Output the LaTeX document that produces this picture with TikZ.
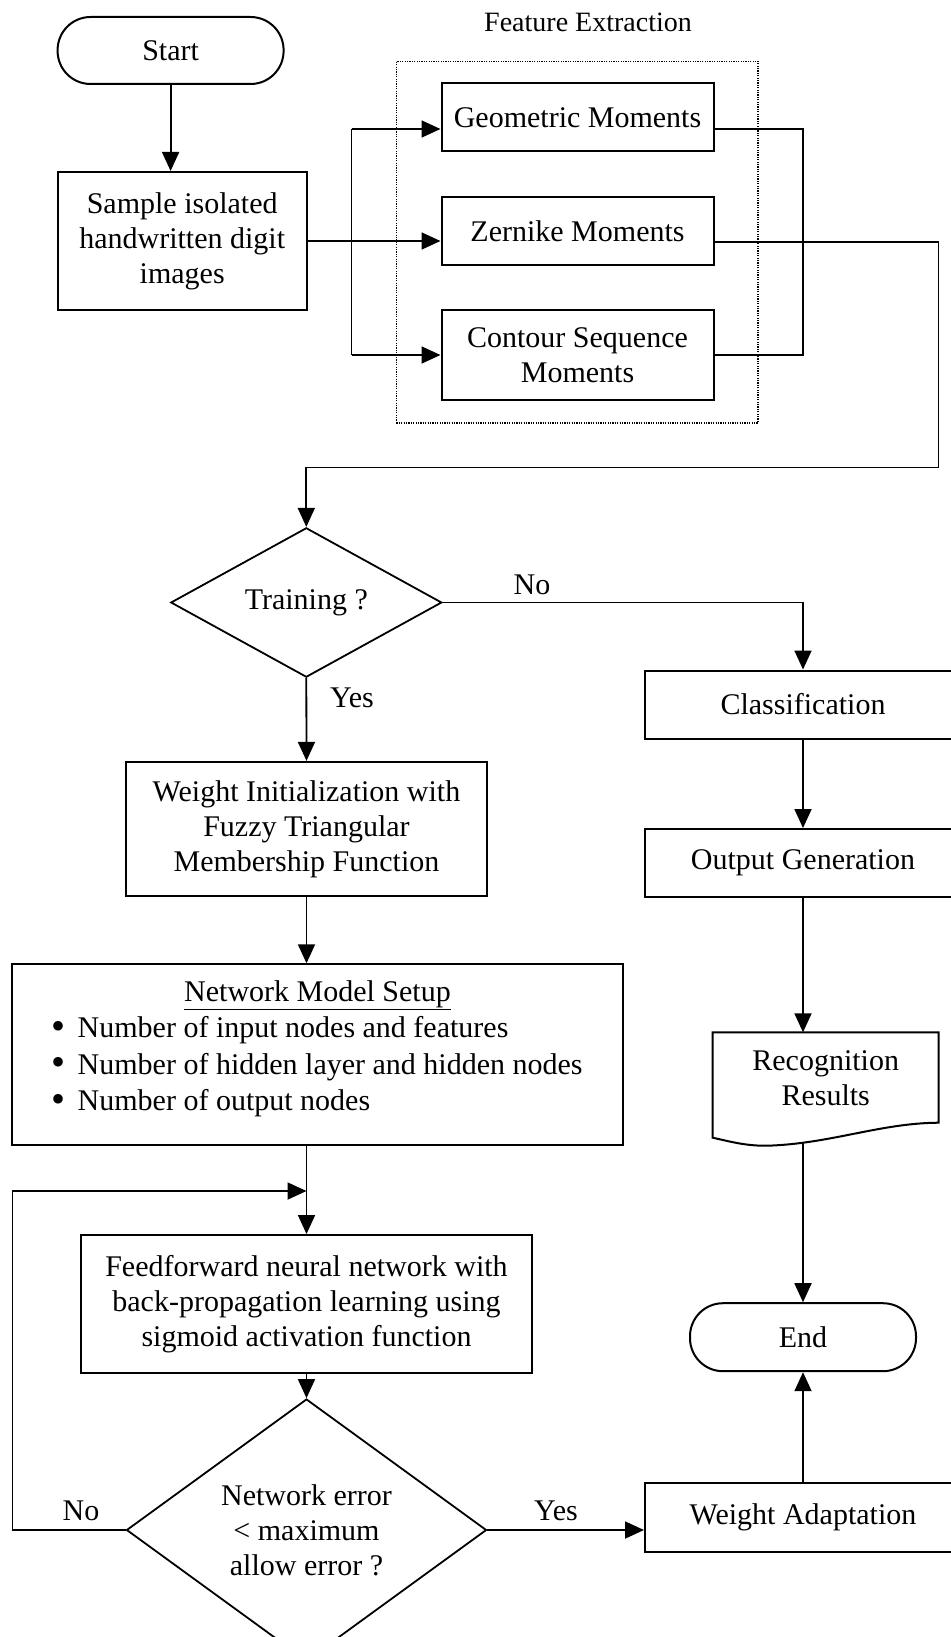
\documentclass[tikz,border=0pt]{standalone}
\usepackage{fontspec}
\setmainfont{Liberation Serif}
\usetikzlibrary{arrows.meta,shapes.geometric,calc}

\newcommand{\bigbullet}{\makebox[26.5pt][l]{\raisebox{-1.2pt}{\fontsize{40}{36.5}\selectfont•}}}

\begin{document}
\begin{tikzpicture}[x=1pt,y=-1pt,
  font=\fontsize{30}{35}\selectfont,
  box/.style={draw, line width=2pt, inner sep=0pt, align=center},
  term/.style={box, rounded corners=33pt},
  decision/.style={draw, diamond, line width=1.8pt, inner sep=0pt, align=center},
  arr/.style={line width=1.8pt, -{Triangle[length=19pt,width=17pt]}},
  conn/.style={line width=1.8pt},
  lbl/.style={inner sep=0pt}
]
\useasboundingbox (0,0) rectangle (950,1637);
\fill[white] (0,0) rectangle (950,1637);

% ---- input and feature extraction ----
\node[term, minimum width=226, minimum height=67] (start) at (170.6,50.5) {Start};
\node[box, minimum width=249, minimum height=138] (sample) at (182.2,241) {Sample isolated\\handwritten digit\\images};

\node[lbl, font=\fontsize{28}{33}\selectfont] (felabel) at (588,22) {Feature Extraction};
\node[draw, line width=1.1pt, dash pattern=on 1.2pt off 1.2pt, inner sep=0pt,
      minimum width=361.5, minimum height=361.5] (frame) at (577.2,242.2) {};

\node[box, minimum width=272, minimum height=68] (geo) at (577.5,117.5) {Geometric Moments};
\node[box, minimum width=272, minimum height=68] (zer) at (577.5,231) {Zernike Moments};
\node[box, minimum width=272, minimum height=90] (con) at (577.5,355) {Contour Sequence\\Moments};

% ---- decision on training ----
\node[decision, minimum width=271, minimum height=135] (train) at (306.3,602.5) {Training ?};
\node[lbl] (no1) at (532,585) {No};
\node[lbl] (yes1) at (352,698) {Yes};

\node[box, minimum width=316, minimum height=68] (class) at (803,704.5) {Classification};
\node[box, minimum width=316, minimum height=68] (outgen) at (803,863) {Output Generation};

% document shape with wavy bottom
\draw[line width=2pt] (712.7,1032.3) -- (938.7,1032.3) -- (938.7,1122.7)
  .. controls (880,1123) and (830,1144) .. (766.7,1145.7)
  .. controls (745,1146) and (728,1141) .. (712.7,1137.7) -- cycle;
\node[lbl, align=center] (doc) at (825.7,1078.5) {Recognition\\Results};
\coordinate (doctop) at (803,1032.3);
\coordinate (docbot) at (803,1143.2);

\node[term, minimum width=226, minimum height=68] (end) at (803,1337.2) {End};

% ---- training branch ----
\node[box, minimum width=361.6, minimum height=134.3] (winit) at (306.5,829) {Weight Initialization with\\Fuzzy Triangular\\Membership Function};

\node[box, minimum width=610.5, minimum height=181] (setup) at (317.5,1054.8) {};
\node[lbl] (setuptitle) at (317.5,995) {\underline{Network Model Setup}};
\node[lbl, anchor=west, align=left, font=\fontsize{30}{36.5}\selectfont] (setuplist) at (51,1067)
  {\bigbullet Number of input nodes and features\\
   \bigbullet Number of hidden layer and hidden nodes\\
   \bigbullet Number of output nodes};

\node[box, minimum width=451, minimum height=138] (ff) at (306.5,1304) {Feedforward neural network with\\back-propagation learning using\\sigmoid activation function};
\node[decision, minimum width=360, minimum height=228] (dec) at (306.5,1530) {Network error\\< maximum\\allow error ?};
\node[lbl] (no2) at (81,1511) {No};
\node[lbl] (yes2) at (556,1511) {Yes};

\node[box, minimum width=316, minimum height=68.4] (wadapt) at (803,1517.5) {Weight Adaptation};

% ---- connectors ----
\draw[arr] (start.south) -- (start.south |- sample.north);
\draw[arr] (sample.east) -- (sample.east -| zer.west);

\coordinate (forktop) at (351.5,129);
\coordinate (forkbot) at (351.5,355);
\draw[conn] (forktop) -- (forkbot);
\draw[arr] (forktop) -- (forktop -| geo.west);
\draw[arr] (forkbot) -- (con.west);

\coordinate (jointop) at (803,129);
\coordinate (joinbot) at (803,355);
\draw[conn] (geo.east |- jointop) -- (jointop) -- (joinbot) -- (con.east);

\coordinate (bend1) at (938.5,242);
\coordinate (bend2) at (938.5,467.5);
\draw[arr] (zer.east |- bend1) -- (bend1) -- (bend2) -- (bend2 -| train.north) -- (train.north);

\draw[arr] (train.south) -- (winit.north);
\draw[arr] (train.east) -- (train.east -| class.north) -- (class.north);
\draw[arr] (class.south) -- (outgen.north);
\draw[arr] (outgen.south) -- (doctop);
\draw[arr] (docbot) -- (end.north);
\draw[arr] (wadapt.north) -- (end.south);

\draw[arr] (winit.south) -- (winit.south |- setup.north);
\draw[arr] (ff.north |- setup.south) -- (ff.north);

\coordinate (loopin) at (306.5,1191);
\coordinate (loopleft) at (12.4,1191);
\draw[arr] (dec.west) -- (dec.west -| loopleft) -- (loopleft) -- (loopin);
\draw[arr] (ff.south) -- (dec.north);
\draw[arr] (dec.east) -- (dec.east -| wadapt.west);
\end{tikzpicture}
\end{document}
